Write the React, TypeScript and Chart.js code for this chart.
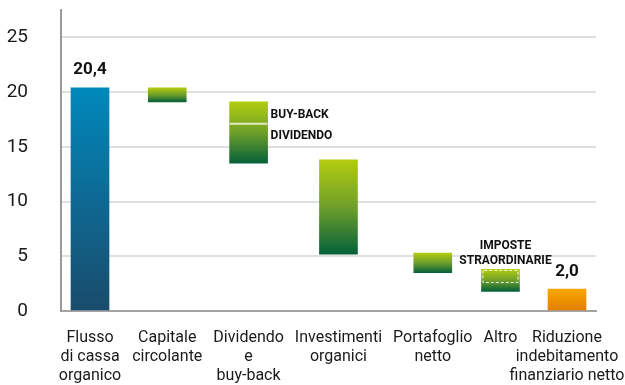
import React, { useEffect, useRef } from "react";
import { Chart, registerables } from "chart.js";

Chart.register(...registerables);

// Cash-flow bridge (billions): floating bars from start to end value
const categories: string[][] = [
  ["Flusso", "di cassa", "organico"],
  ["Capitale", "circolante"],
  ["Dividendo", "e", "buy-back"],
  ["Investimenti", "organici"],
  ["Portafoglio", "netto"],
  ["Altro"],
  ["Riduzione", "indebitamento", "finanziario netto"],
];
const barStart = [0, 20.4, 19.1, 13.8, 5.3, 3.8, 0];
const barEnd = [20.4, 19.1, 13.5, 5.2, 3.5, 1.8, 2.0];
const barKind = ["cash", "flow", "flow", "flow", "flow", "flow", "result"];
const labeledBars = [0, 6];
const yTicks = [0, 5, 10, 15, 20, 25];

// Split of the dividend bar and the extraordinary-tax part of "Altro"
const dividendIndex = 2;
const buyBackEnd = 17.1;
const altroIndex = 5;
const imposteEnd = 2.6;

const FONT = "Roboto, 'Noto Sans', sans-serif";
const LABEL_SIZE = 16;
const BAR_W = 38;
const PLOT_W = 535; // width of the plotting area in px
const EDGE = 29; // distance of first/last column from the plot edges
const LABEL_GAP = 11; // space between neighbouring category labels

const palettes: Record<string, string[]> = {
  cash: ["#0088bb", "#1a4b6b"],
  flow: ["#b2cc0e", "#6e9f2a", "#05613a"],
  result: ["#f8a800", "#e27d00"],
};

const fmt = (v: number) => v.toFixed(1).replace(".", ",");

// Columns follow the width of their labels: each label sits a fixed gap
// after the previous one, and the closing total is anchored to the right.
function columnSlots(): number[] {
  const c = document.createElement("canvas").getContext("2d")!;
  c.font = `${LABEL_SIZE}px ${FONT}`;
  const w = categories.map((lines) =>
    Math.max(...lines.map((l) => c.measureText(l).width))
  );
  const pos = [EDGE];
  for (let i = 1; i < w.length - 1; i++) {
    pos.push(pos[i - 1] + (w[i - 1] + w[i]) / 2 + LABEL_GAP);
  }
  pos.push(PLOT_W - EDGE);
  return pos;
}

function barFill(c: any) {
  const i = c.dataIndex;
  const stops = palettes[barKind[i]] || palettes.flow;
  const chart = c.chart;
  const y = chart.scales?.y;
  if (!chart.chartArea || !y || c.type !== "data") return stops[0];
  const top = y.getPixelForValue(Math.max(barStart[i], barEnd[i]));
  const bottom = y.getPixelForValue(Math.min(barStart[i], barEnd[i]));
  const g = chart.ctx.createLinearGradient(0, top, 0, bottom);
  stops.forEach((col, k) => g.addColorStop(k / (stops.length - 1), col));
  return g;
}

function makeAnnotations(slots: number[]) {
  return {
    id: "annotate",
    afterDatasetsDraw(chart: any) {
      const { ctx, scales } = chart;
      const x = scales.x;
      const y = scales.y;
      const half = BAR_W / 2;
      ctx.save();

      // value labels above the totals
      ctx.font = `bold 17px ${FONT}`;
      ctx.fillStyle = "#111";
      ctx.textAlign = "center";
      ctx.textBaseline = "bottom";
      labeledBars.forEach((i) => {
        const top = y.getPixelForValue(Math.max(barStart[i], barEnd[i]));
        ctx.fillText(fmt(barEnd[i]), x.getPixelForValue(slots[i]), top - 9);
      });

      // buy-back / dividend separator
      const dx = x.getPixelForValue(slots[dividendIndex]);
      const sy = y.getPixelForValue(buyBackEnd);
      ctx.strokeStyle = "rgba(228,236,200,0.95)";
      ctx.lineWidth = 2;
      ctx.beginPath();
      ctx.moveTo(dx - half, sy);
      ctx.lineTo(dx + half, sy);
      ctx.stroke();

      ctx.font = `bold 12px ${FONT}`;
      ctx.textAlign = "left";
      ctx.textBaseline = "middle";
      ctx.fillText("BUY-BACK", dx + half + 3, sy - 9);
      ctx.fillText("DIVIDENDO", dx + half + 3, sy + 12);

      // extraordinary taxes: dashed outline inside "Altro"
      const ax = x.getPixelForValue(slots[altroIndex]);
      const aTop = y.getPixelForValue(barStart[altroIndex]);
      const aDash = y.getPixelForValue(imposteEnd);
      ctx.strokeStyle = "rgba(255,255,255,0.9)";
      ctx.lineWidth = 1;
      ctx.setLineDash([3, 2]);
      ctx.beginPath();
      ctx.moveTo(ax - half + 1.5, aTop + 1);
      ctx.lineTo(ax - half + 1.5, aDash);
      ctx.lineTo(ax + half - 1.5, aDash);
      ctx.lineTo(ax + half - 1.5, aTop + 1);
      ctx.closePath();
      ctx.stroke();
      ctx.setLineDash([]);

      ctx.textAlign = "center";
      ctx.fillText("IMPOSTE", ax + 5, aTop - 23);
      ctx.fillText("STRAORDINARIE", ax + 5, aTop - 8.5);

      ctx.restore();
    },
  };
}

export default function App() {
  const ref = useRef<HTMLCanvasElement>(null);

  useEffect(() => {
    if (!ref.current) return;
    const slots = columnSlots();
    const chart = new Chart(ref.current, {
      type: "bar",
      data: {
        datasets: [
          {
            data: barStart.map((s, i) => ({ x: slots[i], y: [s, barEnd[i]] })) as any,
            backgroundColor: barFill as any,
            borderWidth: 0,
            barThickness: BAR_W,
          },
        ],
      },
      options: {
        animation: false,
        responsive: false,
        devicePixelRatio: 1,
        layout: { padding: { top: 10, right: 29, left: 0, bottom: 0 } },
        plugins: {
          legend: { display: false },
          tooltip: { enabled: false },
        },
        scales: {
          x: {
            type: "linear",
            min: 0,
            max: PLOT_W,
            offset: false,
            grid: { display: false, drawTicks: false, tickLength: 0, offset: false },
            border: { display: true, color: "#a3a3a3", width: 2 },
            afterBuildTicks: (s: any) => {
              s.ticks = slots.map((v) => ({ value: v }));
            },
            afterFit: (s: any) => {
              s.height = 74;
              s.paddingLeft = 0;
              s.paddingRight = 0;
            },
            ticks: {
              autoSkip: false,
              maxRotation: 0,
              minRotation: 0,
              padding: 17,
              color: "#1a1a1a",
              font: { family: FONT, size: LABEL_SIZE, lineHeight: 19 / 16 },
              callback: (_v: any, i: number) => categories[i] ?? "",
            },
          },
          y: {
            type: "linear",
            min: 0,
            max: 27.5,
            grid: { color: "#e0e0e0", lineWidth: 2, drawTicks: false, tickLength: 0 },
            border: { display: true, color: "#9a9a9a", width: 2 },
            afterBuildTicks: (s: any) => {
              s.ticks = yTicks.map((v) => ({ value: v }));
            },
            afterFit: (s: any) => {
              s.width = 61;
              s.paddingTop = 0;
              s.paddingBottom = 0;
            },
            ticks: {
              padding: 33,
              color: "#1a1a1a",
              font: { family: FONT, size: 19 },
              callback: (v: any) => String(v),
            },
          },
        },
      },
      plugins: [makeAnnotations(slots)],
    });
    return () => chart.destroy();
  }, []);

  return (
    <div
      style={{
        position: "fixed",
        left: 0,
        top: 0,
        width: 625,
        height: 385,
        background: "#fff",
      }}
    >
      <canvas
        ref={ref}
        width={625}
        height={385}
        style={{ width: 625, height: 385, display: "block" }}
      />
    </div>
  );
}
